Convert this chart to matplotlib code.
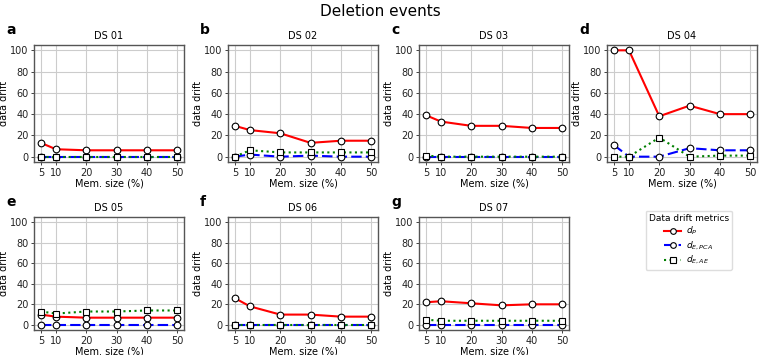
import numpy as np
from matplotlib import pyplot as plt

MEM_SIZES = [5, 10, 20, 30, 40, 50]
DATASETS = ["DS 01", "DS 02", "DS 03", "DS 04", "DS 05", "DS 06", "DS 07"]
PANEL_LABELS = ["a", "b", "c", "d", "e", "f", "g"]

D_P = [
    [13, 7, 6, 6, 6, 6],
    [29, 25, 22, 13, 15, 15],
    [39, 33, 29, 29, 27, 27],
    [100, 100, 38, 48, 40, 40],
    [10, 8, 7, 7, 7, 7],
    [26, 18, 10, 10, 8, 8],
    [22, 23, 21, 19, 20, 20],
]
D_PCA = [
    [0, 0, 0, 0, 0, 0],
    [0, 2, 0, 1, 0, 0],
    [0, 0, 0, 0, 0, 0],
    [11, 0, 0, 8, 6, 6],
    [0, 0, 0, 0, 0, 0],
    [0, 0, 0, 0, 0, 0],
    [0, 0, 0, 0, 0, 0],
]
D_AE = [
    [0, 0, 0, 0, 0, 0],
    [0, 6, 4, 4, 4, 4],
    [1, 0, 0, 0, 0, 0],
    [0, 0, 18, 0, 1, 1],
    [13, 11, 13, 13, 14, 14],
    [0, 0, 0, 0, 0, 0],
    [5, 4, 4, 4, 4, 4],
]

W, H = 760, 355
fig = plt.figure(figsize=(W / 100, H / 100), dpi=100)
fig.suptitle("Deletion events", fontsize=11, y=0.99)

# axes boxes in pixels: left, top, right, bottom
LEFTS = [34, 228, 419, 607]
WIDTH = 150
ROWS = [(45, 162), (217, 330)]

def px_box(left, top, right, bottom):
    return [left / W, 1 - bottom / H, (right - left) / W, (bottom - top) / H]

marker_kw = dict(markerfacecolor="white", markeredgecolor="black", markersize=4.8, markeredgewidth=0.8)

for i, name in enumerate(DATASETS):
    row, col = divmod(i, 4)
    top, bottom = ROWS[row]
    left = LEFTS[col]
    ax = fig.add_axes(px_box(left, top, left + WIDTH, bottom))
    l1, = ax.plot(MEM_SIZES, D_P[i], color="red", linestyle="-", linewidth=1.5, marker="o", **marker_kw)
    l2, = ax.plot(MEM_SIZES, D_PCA[i], color="blue", linestyle=(0, (5, 2)), linewidth=1.5, marker="o", **marker_kw)
    l3, = ax.plot(MEM_SIZES, D_AE[i], color="green", linestyle=":", linewidth=1.5, marker="s", **marker_kw)

    ax.set_ylim(-5, 105)
    ax.set_yticks(np.arange(0, 101, 20))
    ax.set_xticks(MEM_SIZES)
    ax.grid(True, color="#cccccc", linewidth=0.8)
    ax.set_axisbelow(True)
    ax.tick_params(labelsize=7, length=2.5, width=0.6, pad=1.5, colors="#222222")
    for s in ax.spines.values():
        s.set_color("#555555")
        s.set_linewidth(1.0)
    ax.set_title(name, fontsize=7, pad=4)
    ax.set_ylabel("data drift", fontsize=7, labelpad=1)
    ax.set_xlabel("Mem. size (%)", fontsize=7, labelpad=0.5)

    fig.text((left - 28) / W, 1 - (top - 15) / H, PANEL_LABELS[i], fontsize=10,
             fontweight="bold", va="center", ha="left")

fig.legend([l1, l2, l3], [r"$d_P$", r"$d_{E,PCA}$", r"$d_{E,AE}$"],
           title="Data drift metrics", title_fontsize=6.5, fontsize=6.5,
           loc="upper left", bbox_to_anchor=(641 / W, 1 - 206 / H),
           handlelength=1.8, handletextpad=0.6, labelspacing=0.25, borderpad=0.35,
           framealpha=1, edgecolor="#dddddd", markerscale=0.85)

plt.savefig("out.png", dpi=100)
